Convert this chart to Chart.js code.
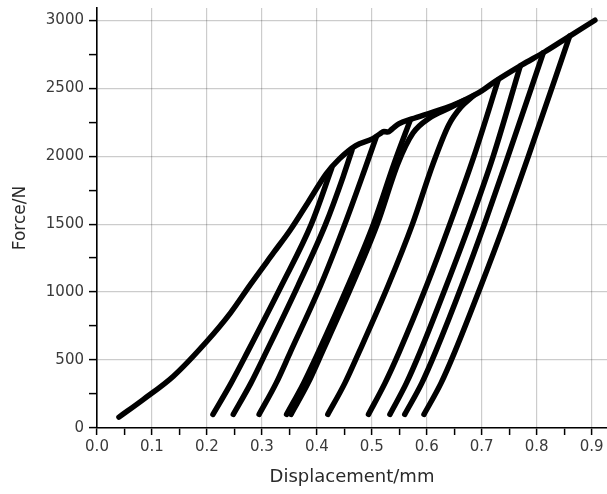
<!DOCTYPE html>
<html>
<head>
<meta charset="utf-8">
<script src="https://cdn.jsdelivr.net/npm/chart.js@4/dist/chart.umd.min.js"></script>
<style>
  html, body { margin: 0; padding: 0; background: #fff; }
  #wrap { width: 607px; height: 494px; position: relative; }
</style>
</head>
<body>
<div id="wrap"><canvas id="c" width="607" height="494"></canvas></div>
<script>
// Axis labels
const xTitle = 'Displacement/mm';
const yTitle = 'Force/N';

// Loading envelope [displacement mm, force N]
const envelope = [[0.040,80],[0.084,209],[0.139,381],[0.200,638],[0.243,847],[0.279,1055],[0.321,1288],[0.352,1459],[0.385,1667],[0.417,1870],[0.441,1980],[0.471,2078],[0.501,2127],[0.515,2165],[0.522,2182],[0.529,2177],[0.537,2200],[0.549,2238],[0.573,2274],[0.610,2323],[0.646,2373],[0.670,2415],[0.700,2480],[0.724,2549],[0.773,2671],[0.815,2768],[0.858,2878],[0.906,3000]];

// Unloading / reloading cycles
const cycleA = [[0.211,100],[0.244,330],[0.274,560],[0.336,1050],[0.390,1500],[0.427,1910]];
const cycleB = [[0.248,100],[0.280,330],[0.308,560],[0.366,1050],[0.416,1500],[0.448,1850],[0.464,2045]];
const cycleC = [[0.295,100],[0.326,330],[0.352,560],[0.407,1050],[0.451,1500],[0.487,1900],[0.508,2140]];
const cycleD1 = [[0.345,100],[0.376,330],[0.403,560],[0.457,1050],[0.503,1500],[0.541,1950],[0.570,2265]];
const cycleD2 = [[0.353,100],[0.384,330],[0.410,560],[0.464,1050],[0.510,1500],[0.548,1950],[0.575,2170],[0.605,2280],[0.640,2352],[0.670,2413]];
const cycleE = [[0.420,100],[0.451,330],[0.477,560],[0.530,1050],[0.574,1500],[0.612,1950],[0.640,2230],[0.662,2360],[0.685,2445]];
const cycleF = [[0.494,100],[0.524,330],[0.550,560],[0.600,1050],[0.642,1500],[0.686,2000],[0.730,2560]];
const cycleG = [[0.533,100],[0.563,330],[0.588,560],[0.636,1050],[0.678,1500],[0.721,2000],[0.770,2662]];
const cycleH = [[0.560,100],[0.591,330],[0.616,560],[0.664,1050],[0.705,1500],[0.748,2000],[0.812,2760]];
const cycleI = [[0.595,100],[0.626,330],[0.651,560],[0.699,1050],[0.741,1500],[0.785,2000],[0.860,2883]];

const curves = [envelope, cycleA, cycleB, cycleC, cycleD1, cycleD2, cycleE, cycleF, cycleG, cycleH, cycleI];

const toPts = arr => arr.map(p => ({x: p[0], y: p[1]}));

const datasets = curves.map(c => ({
  data: toPts(c),
  showLine: true,
  borderColor: '#000',
  backgroundColor: '#000',
  borderWidth: 5.5,
  borderCapStyle: 'round',
  borderJoinStyle: 'round',
  pointRadius: 0,
  cubicInterpolationMode: 'monotone',
  clip: false
}));

const near = (v, step) => Math.abs(v / step - Math.round(v / step)) < 1e-6;
const tickFont = { family: 'DejaVu Sans', size: 15 };
const gridCol = 'rgba(0,0,0,0.2)';

new Chart(document.getElementById('c'), {
  type: 'scatter',
  data: { datasets },
  options: {
    responsive: false,
    animation: false,
    devicePixelRatio: 1,
    layout: { padding: { top: 8, right: 0, left: 0, bottom: 0 } },
    plugins: { legend: { display: false }, tooltip: { enabled: false } },
    scales: {
      x: {
        type: 'linear',
        min: 0, max: 0.928,
        afterBuildTicks: s => { s.ticks = s.ticks.filter(t => t.value <= 0.9001 && near(t.value, 0.05)); },
        afterFit: s => { s.height = 66; s.paddingLeft = 0; s.paddingRight = 0; },
        ticks: {
          stepSize: 0.05,
          includeBounds: false,
          font: tickFont,
          color: '#3a3a3a',
          padding: 3,
          maxRotation: 0,
          autoSkip: false,
          callback: v => near(v, 0.1) ? v.toFixed(1) : ''
        },
        grid: {
          color: ctx => (ctx.tick && near(ctx.tick.value, 0.1)) ? gridCol : 'rgba(0,0,0,0)',
          tickColor: '#000',
          tickLength: 7,
          tickWidth: 1.5,
          lineWidth: 1.2
        },
        border: { display: true, color: '#000', width: 1.6 },
        title: {
          display: true, text: xTitle,
          font: { family: 'DejaVu Sans', size: 18 },
          color: '#2a2a2a',
          padding: { top: 0, bottom: 6 }
        }
      },
      y: {
        type: 'linear',
        min: 0, max: 3090,
        afterBuildTicks: s => { s.ticks = s.ticks.filter(t => t.value <= 3000 && near(t.value, 250)); },
        afterFit: s => { s.width = 97; s.paddingTop = 0; s.paddingBottom = 0; },
        ticks: {
          stepSize: 250,
          includeBounds: false,
          font: tickFont,
          color: '#3a3a3a',
          padding: 5,
          autoSkip: false,
          callback: v => near(v, 500) ? String(v) : ''
        },
        grid: {
          color: ctx => (ctx.tick && near(ctx.tick.value, 500)) ? gridCol : 'rgba(0,0,0,0)',
          tickColor: '#000',
          tickLength: 8,
          tickWidth: 1.5,
          lineWidth: 1.2
        },
        border: { display: true, color: '#000', width: 1.6 },
        title: {
          display: true, text: yTitle,
          font: { family: 'DejaVu Sans', size: 17 },
          color: '#2a2a2a',
          padding: { top: 10, bottom: 0 }
        }
      }
    }
  }
});
</script>
</body>
</html>
